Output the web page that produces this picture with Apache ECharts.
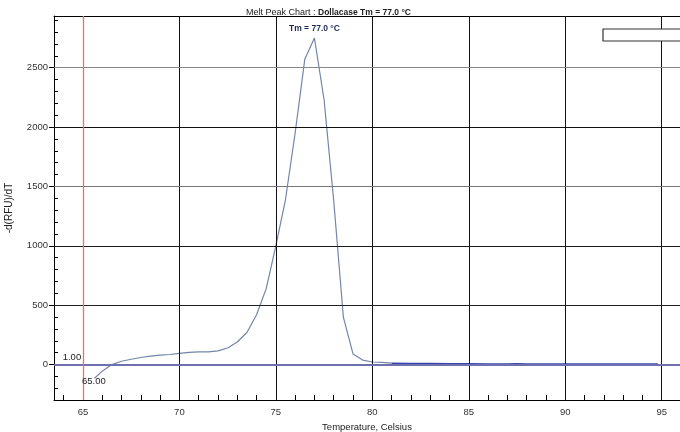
<!DOCTYPE html>
<html><head><meta charset="utf-8">
<script src="https://cdn.jsdelivr.net/npm/echarts@6/dist/echarts.min.js"></script>
<style>html,body{margin:0;padding:0;background:#fff}#c{width:680px;height:432px}</style>
</head><body><div id="c"></div>
<script>
// Main melt-peak curve (Temperature °C, -d(RFU)/dT)
const temps  = [65.6, 66.0, 66.5, 67.0, 67.5, 68.0, 68.5, 69.0, 69.5, 70.0, 70.5, 71.0, 71.5, 72.0, 72.5, 73.0, 73.5, 74.0, 74.5, 75.0, 75.5, 76.0, 76.5, 77.0, 77.5, 78.0, 78.5, 79.0, 79.5, 80.0, 80.5, 81.0];
const dRFU   = [-115, -55, 0, 28, 45, 60, 72, 80, 85, 95, 103, 108, 108, 115, 140, 190, 270, 420, 640, 1000, 1390, 1950, 2570, 2750, 2230, 1380, 400, 90, 38, 22, 18, 12];
// Darker tail after the peak
const tailTemps  = [81.0, 82.0, 83.0, 84.0, 85.0, 86.0, 87.0, 87.5, 88.0, 89.0, 90.0, 91.0, 92.0, 93.0, 94.0, 94.8];
const tailValues = [10, 8, 7, 6, 5, 4, 4, 6, 4, 3, 3, 3, 3, 3, 3, 3];

const xLabelTicks = [65, 70, 75, 80, 85, 90, 95];
const xMinorTicks = [64, 65, 66, 67, 68, 69, 70, 71, 72, 73, 74, 75, 76, 77, 78, 79, 80, 81, 82, 83, 84, 85, 86, 87, 88, 89, 90, 91, 92, 93, 94, 95];
const yLabelTicks = [0, 500, 1000, 1500, 2000, 2500];
const yMinorTicks = [-200, -100, 0, 100, 200, 300, 400, 500, 600, 700, 800, 900, 1000, 1100, 1200, 1300, 1400, 1500, 1600, 1700, 1800, 1900, 2000, 2100, 2200, 2300, 2400, 2500, 2600, 2700, 2800, 2900];
const gridX = [70, 75, 80, 85, 90, 95];
const gridY = [500, 1000, 1500, 2000, 2500];
const gridYColors = ['#222', '#1a1a1a', '#777', '#111', '#888'];
const cursorTemp = 65;
const cursorValueText = '1.00';
const cursorTempText = '65.00';
const peakTemp = 77.0;
const peakValue = 2750;
const peakText = 'Tm = 77.0 °C';
const titleMain = 'Melt Peak Chart : ';
const titleBold = 'Dollacase Tm = 77.0 °C';

const FONT = 'Liberation Sans, Arial, sans-serif';
const chart = echarts.init(document.getElementById('c'), null, {renderer: 'canvas'});

const markLines = [];
gridX.forEach(v => markLines.push({xAxis: v, lineStyle: {color: '#111', width: 1, type: 'solid'}}));
gridY.forEach((v, i) => markLines.push({yAxis: v, lineStyle: {color: gridYColors[i], width: 1, type: 'solid'}}));
markLines.push({yAxis: 0, lineStyle: {color: '#7070b0', width: 2, type: 'solid'}});
markLines.push({xAxis: cursorTemp, lineStyle: {color: '#e0785c', width: 1.3, type: 'solid', opacity: 1}});

chart.setOption({
  animation: false,
  backgroundColor: '#fff',
  title: {
    left: 241, top: 3,
    text: '{a|' + titleMain + '}{b|' + titleBold + '}',
    textStyle: {
      fontWeight: 'normal',
      rich: {
        a: {fontFamily: FONT, fontSize: 9, fontWeight: 'normal', color: '#222'},
        b: {fontFamily: FONT, fontSize: 8.5, fontWeight: 'bold', color: '#222'}
      }
    }
  },
  grid: {left: 54, right: 0, top: 16, bottom: 32, containLabel: false, outerBoundsMode: 'none'},
  xAxis: [{
    type: 'value', min: 63.5, max: 95.95,
    axisLine: {show: true, onZero: false, lineStyle: {color: '#000', width: 1}},
    axisTick: {show: true, inside: true, length: 5, customValues: xMinorTicks, lineStyle: {color: '#000'}},
    axisLabel: {customValues: xLabelTicks, color: '#333', fontSize: 9.5, fontFamily: FONT, margin: 7},
    splitLine: {show: false},
    name: 'Temperature, Celsius', nameLocation: 'middle', nameGap: 19,
    nameTextStyle: {color: '#222', fontSize: 9.5, fontFamily: FONT}
  }, {
    type: 'value', position: 'top', min: 63.5, max: 95.95,
    axisLine: {show: true, onZero: false, lineStyle: {color: '#000', width: 1}},
    axisTick: {show: false}, axisLabel: {show: false}, splitLine: {show: false}
  }],
  yAxis: [{
    type: 'value', min: -298, max: 2935,
    axisLine: {show: true, onZero: false, lineStyle: {color: '#000', width: 1}},
    axisTick: {show: true, inside: true, length: 4, customValues: yMinorTicks, lineStyle: {color: '#000'}},
    axisLabel: {customValues: yLabelTicks, formatter: v => String(v), color: '#333', fontSize: 9.5, fontFamily: FONT, margin: 6},
    splitLine: {show: false},
    name: '-d(RFU)/dT', nameLocation: 'middle', nameGap: 40, nameRotate: 90,
    nameTextStyle: {color: '#222', fontSize: 10, fontFamily: FONT}
  }, {
    type: 'value', position: 'left', offset: 0, min: -298, max: 2935,
    axisLine: {show: false},
    axisTick: {show: true, inside: false, length: 5, customValues: yLabelTicks, lineStyle: {color: '#000'}},
    axisLabel: {show: false}, splitLine: {show: false}
  }],
  series: [{
    type: 'line', z: 1, data: [], silent: true,
    markLine: {
      silent: true, symbol: ['none', 'none'], label: {show: false}, animation: false,
      data: markLines
    },
    markPoint: {
      silent: true, symbolSize: 0, animation: false,
      data: [{
        coord: [cursorTemp, 0], value: cursorValueText,
        label: {show: true, formatter: cursorValueText, position: 'inside', offset: [-11, -7], color: '#222', fontSize: 9.5, fontFamily: FONT}
      }, {
        coord: [cursorTemp, 0], value: cursorTempText,
        label: {show: true, formatter: cursorTempText, position: 'inside', offset: [11, 17], color: '#222', fontSize: 9.5, fontFamily: FONT}
      }]
    }
  }, {
    type: 'line', z: 3, showSymbol: false, smooth: false,
    data: temps.map((t, i) => [t, dRFU[i]]),
    lineStyle: {color: '#7186a8', width: 1.2},
    markPoint: {
      silent: true, symbolSize: 0, animation: false,
      data: [{
        coord: [peakTemp, peakValue], value: peakText,
        label: {show: true, formatter: peakText, position: 'inside', offset: [0, -9], color: '#1c2b55', fontSize: 8.5, fontWeight: 'bold', fontFamily: FONT}
      }]
    }
  }, {
    type: 'line', z: 4, showSymbol: false, smooth: false,
    data: tailTemps.map((t, i) => [t, tailValues[i]]),
    lineStyle: {color: '#3444aa', width: 2}
  }],
  graphic: [{
    type: 'rect', z: 100,
    shape: {x: 603, y: 29, width: 90, height: 12},
    style: {fill: '#fff', stroke: '#333', lineWidth: 1.2}
  }]
});
</script>
</body></html>
